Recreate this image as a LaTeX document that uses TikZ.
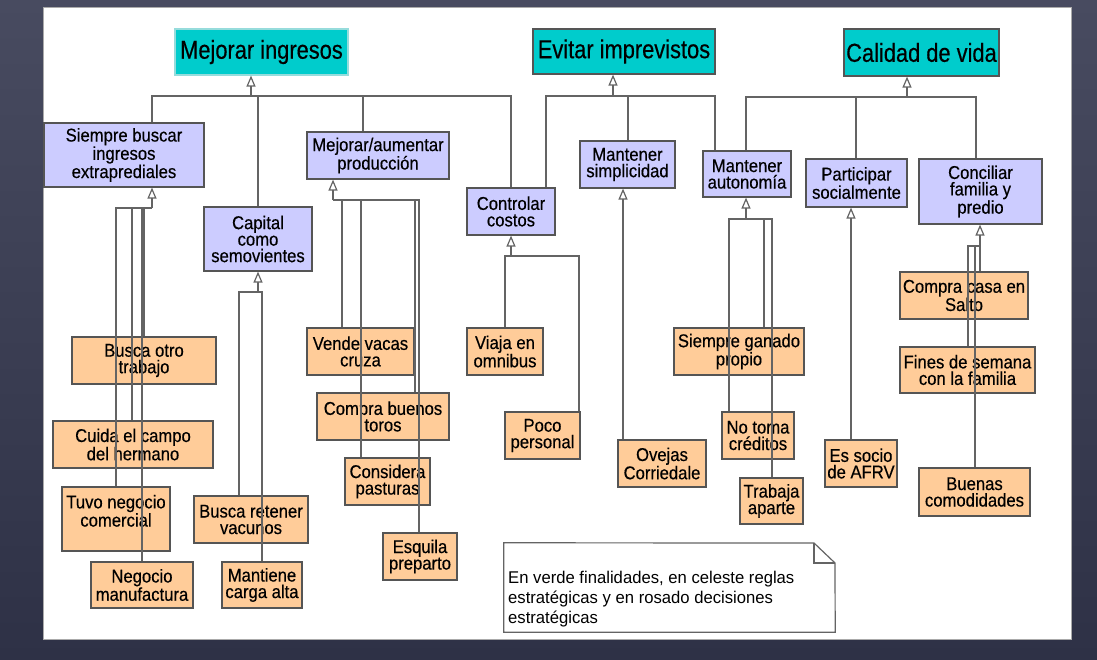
\documentclass[tikz,border=0pt]{standalone}
\usepackage{fontspec}
\setmainfont{Liberation Sans}[FakeStretch=0.9, FakeBold=0.4]
\newfontfamily\titlefont{Liberation Sans}[FakeStretch=0.84, FakeBold=0.4]
\newfontfamily\notefont{Liberation Sans}[FakeStretch=0.98]
\usetikzlibrary{arrows.meta}
\definecolor{bgdark}{RGB}{46,49,70}
\definecolor{bglight}{RGB}{72,75,96}
\definecolor{cyanbox}{RGB}{0,204,204}
\definecolor{cyanedge}{RGB}{150,220,220}
\definecolor{lav}{RGB}{204,204,255}
\definecolor{peach}{RGB}{255,204,153}
\definecolor{edge}{RGB}{85,85,85}
\definecolor{wirec}{RGB}{100,100,100}
\definecolor{paneledge}{RGB}{170,170,170}
\tikzset{
  box/.style={draw=edge, line width=1.2pt, inner sep=0pt, align=center,
    font=\fontsize{18.5}{16.5}\selectfont},
  goal/.style={box, fill=cyanbox, font=\titlefont\fontsize{26}{28}\selectfont},
  rulebox/.style={box, fill=lav},
  decibox/.style={box, fill=peach},
  wire/.style={draw=wirec, line width=1.2pt},
  tip/.style={wire, -{Triangle[width=9pt, length=11pt, fill=white]}}
}
\begin{document}
\begin{tikzpicture}[x=1pt, y=-1pt]
\useasboundingbox (0,0) rectangle (1097,660);
\shade[top color=bglight, bottom color=bgdark] (0,0) rectangle (1097,660);
\draw[fill=white, draw=paneledge, line width=1pt] (43,8) rectangle (1071,639);

% goals
\node[goal, draw=cyanedge, minimum width=173, minimum height=46] (mi) at (261.5,52) {Mejorar ingresos};
\node[goal, minimum width=182, minimum height=45] (ei) at (624,51.5) {Evitar imprevistos};
\node[goal, minimum width=155, minimum height=47] (cv) at (921.5,52.5) {Calidad de vida};

% strategic rules
\node[rulebox, minimum width=160, minimum height=64] (sb) at (124,155) {Siempre buscar\\ingresos\\extraprediales};
\node[rulebox, minimum width=108, minimum height=64] (cap) at (258,239) {Capital\\como\\semovientes};
\node[rulebox, minimum width=142, minimum height=47] (map) at (378,155.5) {Mejorar/aumentar\\producción};
\node[rulebox, minimum width=88, minimum height=47] (cc) at (511,211.5) {Controlar\\costos};
\node[rulebox, minimum width=95, minimum height=47] (ms) at (627.5,164.5) {Mantener\\simplicidad};
\node[rulebox, minimum width=88, minimum height=46] (ma) at (747,174) {Mantener\\autonomía};
\node[rulebox, minimum width=101, minimum height=48] (ps) at (856.5,183) {Participar\\socialmente};
\node[rulebox, minimum width=123, minimum height=65] (cf) at (980.5,191.5) {Conciliar\\familia y\\predio};

% strategic decisions
\node[decibox, minimum width=144, minimum height=47] (bo) at (144,360.5) {Busca otro\\trabajo};
\node[decibox, minimum width=160, minimum height=47] (cu) at (133,444.5) {Cuida el campo\\del hermano};
\node[decibox, minimum width=108, minimum height=64] (tn) at (116,519) {Tuvo negocio\\comercial\\\mbox{}};
\node[decibox, minimum width=102, minimum height=46] (nm) at (142,585) {Negocio\\manufactura};
\node[decibox, minimum width=114, minimum height=47] (brv) at (251,519.5) {Busca retener\\vacunos};
\node[decibox, minimum width=80, minimum height=46] (mca) at (262,585) {Mantiene\\carga alta};
\node[decibox, minimum width=107, minimum height=47] (vvc) at (360.5,351.5) {Vende vacas\\cruza};
\node[decibox, minimum width=132, minimum height=47] (cbt) at (383,416.5) {Compra buenos\\toros};
\node[decibox, minimum width=85, minimum height=47] (cpa) at (387.5,481.5) {Considera\\pasturas};
\node[decibox, minimum width=74, minimum height=47] (esq) at (420,556.5) {Esquila\\preparto};
\node[decibox, minimum width=76, minimum height=47] (vo) at (505,351.5) {Viaja en\\omnibus};
\node[decibox, minimum width=75, minimum height=47] (pp) at (542.5,435.5) {Poco\\personal};
\node[decibox, minimum width=88, minimum height=47] (ov) at (662,463.5) {Ovejas\\Corriedale};
\node[decibox, minimum width=130, minimum height=47] (sgp) at (739,351.5) {Siempre ganado\\propio};
\node[decibox, minimum width=72, minimum height=47] (ntc) at (758,435.5) {No toma\\créditos};
\node[decibox, minimum width=63, minimum height=46] (ta) at (771.5,501) {Trabaja\\aparte};
\node[decibox, minimum width=72, minimum height=47] (es) at (861,463.5) {Es socio\\de AFRV};
\node[decibox, minimum width=128, minimum height=47] (ccs) at (964,295.5) {Compra casa en\\Salto};
\node[decibox, minimum width=135, minimum height=46] (fs) at (967.5,370) {Fines de semana\\con la familia};
\node[decibox, minimum width=111, minimum height=48] (bc) at (974.5,492) {Buenas\\comodidades};

% legend note
\node[inner sep=0pt, minimum width=331, minimum height=89] (lg) at (669.5,587.5) {};
\coordinate (lgA) at (814,543);
\coordinate (lgB) at (835,563);
\draw[draw=wirec, line width=1.2pt, fill=white] (lg.north west) -- (lgA) -- (lgB) -- (lg.south east) -- (lg.south west) -- cycle;
\draw[draw=wirec, line width=1.2pt] (lgA) -- (lgA |- lgB) -- (lgB);
\node[anchor=north west, inner sep=0pt, align=left, font=\notefont\fontsize{17}{20}\selectfont] (lgt) at (508,570.5)
  {En verde finalidades, en celeste reglas\\estratégicas y en rosado decisiones\\estratégicas};

% Mejorar ingresos
\coordinate (bMI) at (251,96);
\draw[wire] (152,0 |- sb.north) |- (bMI);
\draw[wire] (258,0 |- cap.north) |- (bMI);
\draw[wire] (363,0 |- map.north) |- (bMI);
\draw[wire] (511,0 |- cc.north) |- (bMI);
\draw[tip] (bMI) -- (bMI |- mi.south);

% Evitar imprevistos
\coordinate (bEI) at (613,96);
\draw[wire] (546,0 |- cc.north) |- (bEI);
\draw[wire] (628,0 |- ms.north) |- (bEI);
\draw[wire] (715,0 |- ma.north) |- (bEI);
\draw[tip] (bEI) -- (bEI |- ei.south);

% Calidad de vida
\coordinate (bCV) at (907,97);
\draw[wire] (746,0 |- ma.north) |- (bCV);
\draw[wire] (856,0 |- ps.north) |- (bCV);
\draw[wire] (976,0 |- cf.north) |- (bCV);
\draw[tip] (bCV) -- (bCV |- cv.south);

% Siempre buscar ingresos extraprediales
\coordinate (bSB) at (152,208);
\draw[wire] (116,0 |- tn.north) |- (bSB);
\draw[wire] (132,0 |- cu.north) |- (bSB);
\draw[wire] (142,0 |- nm.north) |- (bSB);
\draw[wire] (144,0 |- bo.north) |- (bSB);
\draw[tip] (bSB) -- (bSB |- sb.south);

% Capital como semovientes
\coordinate (bCAP) at (258,292);
\draw[wire] (239,0 |- brv.north) |- (bCAP);
\draw[wire] (262,0 |- mca.north) |- (bCAP);
\draw[tip] (bCAP) -- (bCAP |- cap.south);

% Mejorar/aumentar produccion
\coordinate (bMAP) at (333,200);
\draw[wire] (342,0 |- vvc.north) |- (bMAP);
\draw[wire] (361,0 |- cpa.north) |- (bMAP);
\draw[wire] (415,0 |- cbt.north) |- (bMAP);
\draw[wire] (419,0 |- esq.north) |- (bMAP);
\draw[tip] (bMAP) -- (bMAP |- map.south);

% Controlar costos
\coordinate (bCC) at (511,256);
\draw[wire] (505,0 |- vo.north) |- (bCC);
\draw[wire] (579,0 |- pp.north) |- (bCC);
\draw[tip] (bCC) -- (bCC |- cc.south);

% Mantener simplicidad
\draw[tip] (623,0 |- ov.north) -- (623,0 |- ms.south);

% Mantener autonomia
\coordinate (bMA) at (746,219);
\draw[wire] (729,0 |- ntc.north) |- (bMA);
\draw[wire] (764,0 |- sgp.north) |- (bMA);
\draw[wire] (772,0 |- ta.north) |- (bMA);
\draw[tip] (bMA) -- (bMA |- ma.south);

% Participar socialmente
\draw[tip] (851,0 |- es.north) -- (851,0 |- ps.south);

% Conciliar familia y predio
\coordinate (bCF) at (980,246);
\draw[wire] (968,0 |- fs.north) |- (bCF);
\draw[wire] (975,0 |- bc.north) |- (bCF);
\draw[wire] (980,0 |- ccs.north) |- (bCF);
\draw[tip] (bCF) -- (bCF |- cf.south);
\end{tikzpicture}
\end{document}
